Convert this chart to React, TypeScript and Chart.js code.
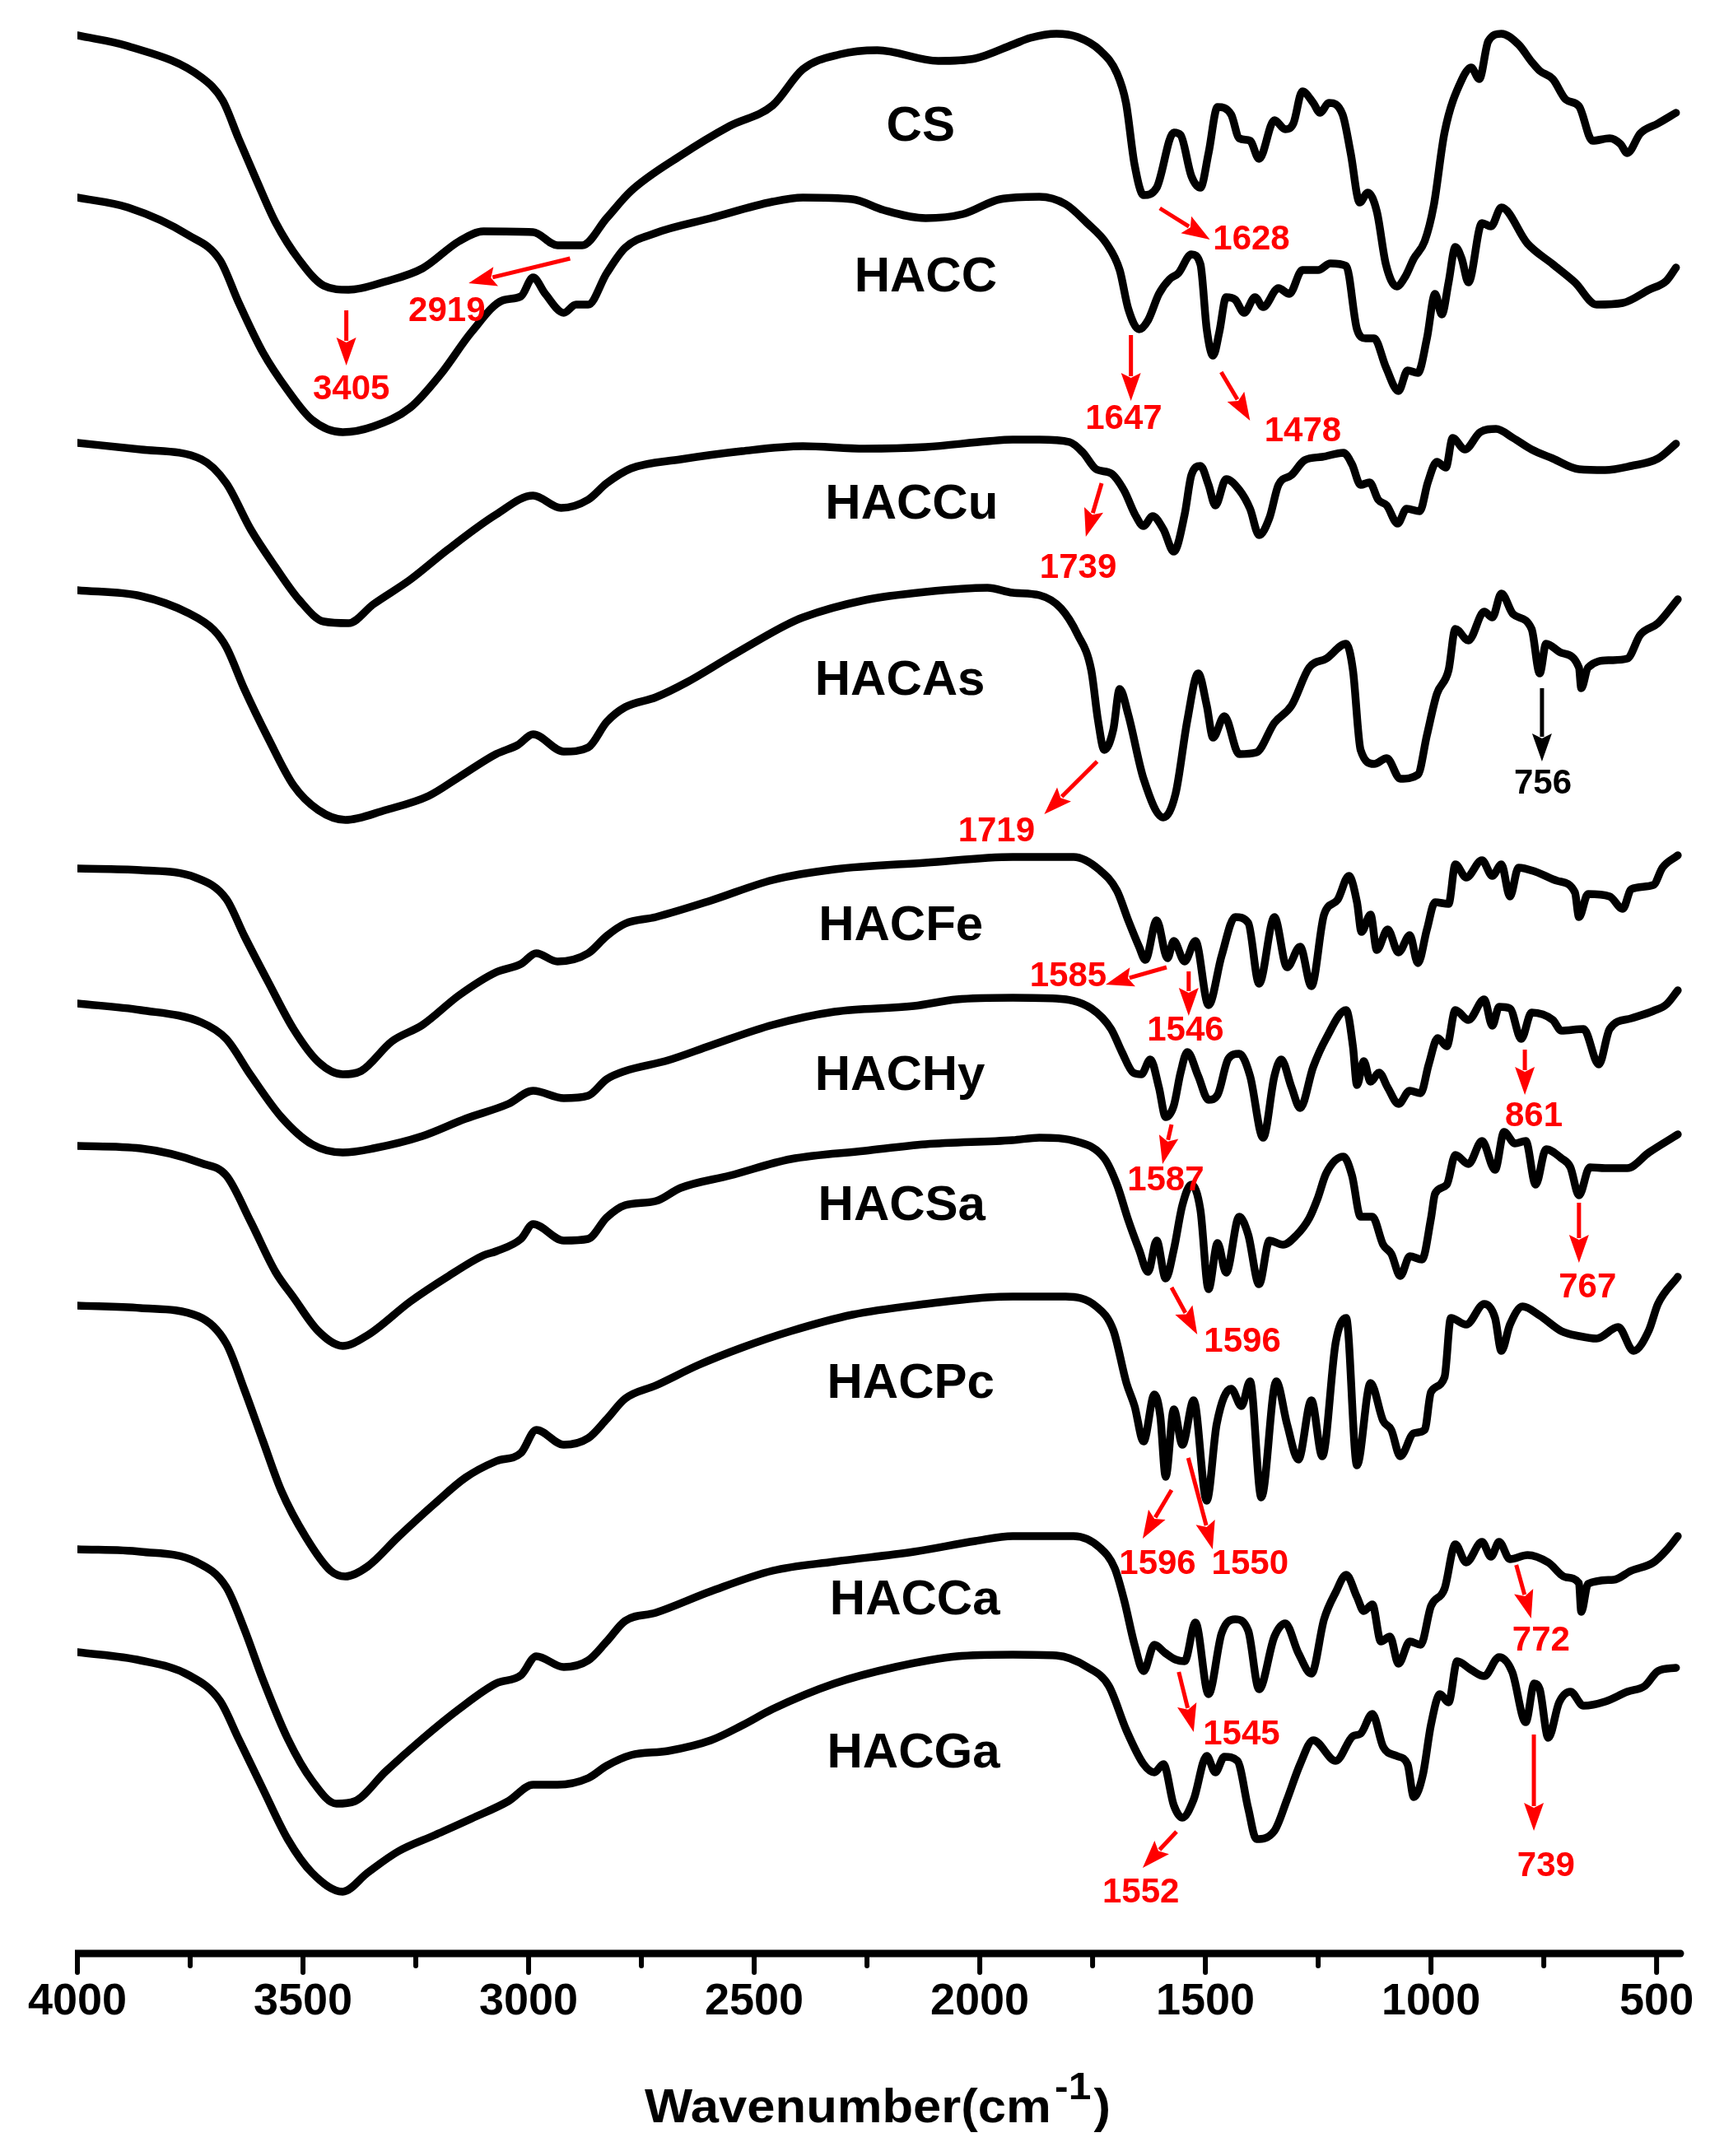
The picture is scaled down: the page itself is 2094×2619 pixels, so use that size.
import React, { useEffect, useRef } from 'react';
import { Chart, registerables } from 'chart.js';

Chart.register(...registerables);

type P = [number, number];

// Wavenumber (cm-1) and stacked, offset transmittance (arbitrary units, larger = lower on page)
const CS: P[] = [[4000,43],[3888,56],[3725,94],[3678,122],[3643,168],[3603,219],[3561,270],[3508,316],[3454,347],[3399,352],[3317,342],[3235,326],[3154,293],[3100,281],[2990,282],[2936,298],[2881,298],[2827,265],[2773,232],[2663,189],[2554,153],[2459,128],[2392,84],[2310,66],[2227,61],[2092,74],[2010,71],[1926,54],[1888,46],[1830,41],[1783,45],[1734,61],[1696,89],[1676,125],[1657,200],[1637,237],[1608,228],[1570,161],[1555,164],[1531,214],[1511,228],[1493,186],[1473,130],[1443,139],[1425,168],[1401,171],[1381,193],[1347,146],[1323,157],[1305,150],[1285,111],[1261,125],[1246,137],[1226,125],[1196,139],[1178,186],[1158,246],[1140,234],[1120,257],[1100,321],[1076,348],[1057,336],[1038,314],[1014,293],[994,250],[970,161],[931,96],[911,82],[893,96],[873,50],[844,41],[806,54],[777,75],[759,86],[730,96],[701,121],[672,129],[642,171],[604,168],[580,175],[565,186],[536,162],[497,150],[457,137]];

const HACC: P[] = [[4000,240],[3888,252],[3753,286],[3684,316],[3643,367],[3589,428],[3534,474],[3480,510],[3412,525],[3344,518],[3262,495],[3194,454],[3126,403],[3058,365],[3017,360],[2990,337],[2963,357],[2922,380],[2895,370],[2868,370],[2827,332],[2786,301],[2718,283],[2596,265],[2459,245],[2392,240],[2282,242],[2214,255],[2120,265],[2037,260],[1955,242],[1868,239],[1810,248],[1762,271],[1719,296],[1690,328],[1671,375],[1647,400],[1627,389],[1603,357],[1579,339],[1560,332],[1531,309],[1511,321],[1497,400],[1483,432],[1469,403],[1454,361],[1434,364],[1414,380],[1390,361],[1372,373],[1338,350],[1314,357],[1285,328],[1250,328],[1223,320],[1188,323],[1164,400],[1145,411],[1126,411],[1100,446],[1072,475],[1052,450],[1029,453],[1009,411],[991,357],[976,382],[961,343],[946,300],[932,314],[917,343],[887,271],[867,275],[844,252],[786,296],[730,321],[681,343],[633,370],[575,368],[517,352],[478,341],[457,325]];

const HACCu: P[] = [[4000,538],[3860,546],[3725,558],[3670,587],[3616,643],[3561,689],[3508,729],[3454,755],[3399,757],[3344,734],[3262,704],[3180,668],[3072,625],[2990,602],[2928,617],[2868,607],[2827,587],[2773,569],[2663,558],[2527,548],[2392,542],[2255,545],[2120,543],[1983,536],[1927,534],[1868,534],[1801,537],[1771,550],[1742,570],[1709,575],[1680,596],[1656,625],[1637,639],[1617,627],[1593,643],[1570,670],[1546,625],[1531,577],[1511,566],[1493,589],[1478,614],[1454,582],[1425,595],[1401,618],[1381,650],[1358,629],[1338,589],[1309,577],[1280,559],[1241,555],[1194,550],[1175,564],[1156,589],[1136,586],[1117,607],[1098,614],[1074,636],[1054,618],[1025,621],[1007,586],[987,561],[967,568],[952,532],[925,546],[891,525],[856,521],[818,532],[777,546],[730,557],[672,570],[614,571],[556,566],[497,557],[457,539]];

const HACAs: P[] = [[4000,717],[3860,724],[3753,745],[3698,765],[3670,786],[3630,837],[3576,898],[3521,954],[3466,984],[3406,996],[3317,984],[3222,967],[3154,944],[3072,916],[3024,905],[2990,892],[2922,913],[2868,908],[2827,877],[2786,859],[2718,847],[2650,829],[2554,798],[2432,760],[2392,750],[2255,729],[2120,719],[1983,714],[1927,720],[1868,723],[1820,739],[1783,771],[1753,814],[1738,875],[1724,911],[1704,886],[1690,837],[1671,868],[1637,946],[1593,993],[1566,964],[1540,875],[1516,818],[1497,857],[1483,896],[1458,870],[1425,916],[1387,914],[1347,878],[1309,857],[1270,811],[1232,800],[1188,782],[1173,814],[1156,911],[1126,928],[1098,921],[1068,946],[1029,941],[1009,893],[987,843],[961,814],[946,764],[917,778],[882,743],[864,750],[844,721],[818,746],[777,764],[759,818],[745,782],[711,793],[672,811],[667,836],[652,811],[604,802],[565,800],[536,771],[497,757],[453,728]];

const HACFe: P[] = [[4000,1055],[3860,1057],[3738,1066],[3670,1092],[3630,1137],[3576,1194],[3521,1250],[3466,1290],[3412,1305],[3371,1301],[3303,1265],[3235,1245],[3154,1209],[3072,1181],[3017,1171],[2983,1158],[2936,1168],[2868,1158],[2827,1137],[2786,1122],[2718,1114],[2596,1094],[2459,1069],[2322,1056],[2120,1048],[1927,1041],[1792,1041],[1734,1057],[1696,1082],[1671,1118],[1647,1150],[1633,1166],[1608,1118],[1584,1164],[1570,1143],[1546,1168],[1522,1143],[1493,1221],[1464,1161],[1434,1114],[1405,1121],[1381,1195],[1347,1114],[1319,1175],[1290,1150],[1265,1198],[1237,1111],[1207,1093],[1182,1064],[1164,1096],[1154,1132],[1134,1111],[1120,1154],[1096,1129],[1072,1157],[1047,1136],[1029,1170],[1009,1129],[991,1096],[961,1098],[946,1050],[922,1066],[887,1045],[864,1064],[844,1050],[825,1089],[806,1054],[768,1059],[720,1070],[681,1084],[672,1114],[652,1086],[604,1089],[575,1104],[556,1080],[507,1075],[487,1054],[453,1039]];

const HACHy: P[] = [[4000,1219],[3860,1227],[3725,1242],[3670,1262],[3616,1306],[3548,1357],[3480,1390],[3412,1400],[3344,1395],[3235,1380],[3140,1359],[3045,1341],[2990,1325],[2922,1334],[2868,1331],[2827,1311],[2786,1301],[2691,1288],[2596,1270],[2459,1245],[2322,1229],[2146,1222],[2051,1214],[1927,1212],[1830,1213],[1753,1225],[1709,1250],[1685,1278],[1660,1303],[1642,1305],[1622,1287],[1603,1321],[1588,1357],[1570,1343],[1555,1303],[1540,1278],[1516,1307],[1493,1336],[1473,1330],[1449,1286],[1425,1280],[1401,1307],[1372,1382],[1347,1307],[1332,1287],[1309,1321],[1290,1346],[1261,1296],[1232,1261],[1188,1227],[1173,1271],[1164,1318],[1149,1289],[1134,1314],[1115,1303],[1096,1321],[1072,1341],[1047,1325],[1023,1328],[1005,1293],[985,1261],[965,1271],[946,1227],[917,1239],[882,1214],[864,1246],[849,1223],[825,1225],[800,1262],[777,1230],[730,1239],[711,1252],[662,1250],[628,1293],[604,1250],[556,1237],[507,1228],[478,1220],[453,1203]];

const HACSa: P[] = [[4000,1392],[3860,1395],[3725,1413],[3670,1428],[3616,1484],[3561,1545],[3521,1576],[3466,1617],[3412,1635],[3357,1622],[3262,1581],[3180,1551],[3100,1525],[3072,1520],[3017,1505],[2990,1487],[2922,1507],[2868,1505],[2827,1479],[2786,1464],[2718,1459],[2663,1443],[2554,1428],[2419,1408],[2255,1398],[2120,1390],[1927,1385],[1868,1382],[1783,1387],[1724,1407],[1696,1439],[1671,1482],[1647,1518],[1627,1545],[1608,1507],[1588,1553],[1570,1518],[1551,1464],[1531,1439],[1511,1470],[1493,1566],[1473,1510],[1454,1546],[1425,1478],[1405,1500],[1381,1560],[1358,1507],[1328,1512],[1299,1501],[1270,1480],[1252,1457],[1232,1425],[1194,1405],[1175,1428],[1156,1478],[1130,1478],[1106,1512],[1088,1523],[1068,1550],[1047,1526],[1020,1530],[1000,1480],[991,1450],[965,1439],[946,1403],[917,1414],[887,1386],[858,1421],[838,1375],[814,1389],[790,1386],[768,1439],[745,1396],[711,1407],[691,1418],[672,1452],[648,1418],[614,1419],[565,1419],[517,1400],[453,1378]];

const HACPc: P[] = [[4000,1586],[3860,1589],[3732,1599],[3670,1632],[3630,1688],[3589,1750],[3548,1811],[3494,1867],[3439,1908],[3406,1915],[3357,1903],[3289,1867],[3207,1826],[3140,1795],[3072,1775],[3017,1765],[2983,1737],[2922,1755],[2868,1747],[2827,1724],[2786,1699],[2718,1683],[2623,1658],[2527,1637],[2419,1617],[2282,1597],[2120,1584],[1983,1576],[1927,1575],[1810,1575],[1742,1587],[1704,1616],[1675,1680],[1657,1708],[1637,1751],[1613,1694],[1600,1720],[1588,1794],[1570,1712],[1551,1755],[1526,1701],[1497,1823],[1475,1730],[1443,1687],[1420,1708],[1401,1678],[1376,1819],[1343,1678],[1319,1730],[1294,1773],[1265,1701],[1241,1769],[1211,1630],[1188,1601],[1164,1780],[1134,1680],[1106,1726],[1088,1737],[1068,1769],[1038,1741],[1014,1737],[1000,1691],[970,1673],[956,1601],[922,1609],[882,1584],[858,1601],[844,1641],[825,1609],[797,1587],[759,1598],[711,1617],[672,1623],[633,1626],[585,1612],[551,1641],[517,1616],[497,1584],[453,1551]];

const HACCa: P[] = [[4000,1882],[3860,1885],[3738,1897],[3670,1928],[3630,1979],[3589,2040],[3534,2112],[3480,2163],[3426,2191],[3385,2188],[3317,2152],[3235,2112],[3154,2076],[3072,2045],[3017,2035],[2983,2012],[2922,2025],[2868,2017],[2827,1994],[2786,1969],[2718,1959],[2596,1933],[2459,1908],[2322,1897],[2146,1885],[2010,1872],[1927,1866],[1792,1866],[1734,1880],[1701,1905],[1680,1944],[1657,1998],[1637,2030],[1613,1998],[1589,2008],[1566,2016],[1546,2018],[1522,1971],[1493,2058],[1464,1984],[1434,1967],[1405,1981],[1381,2052],[1347,1988],[1323,1972],[1294,2008],[1265,2033],[1237,1967],[1211,1934],[1188,1913],[1164,1940],[1149,1957],[1130,1949],[1111,1994],[1091,1988],[1072,2021],[1047,1994],[1023,1998],[1000,1951],[970,1930],[946,1876],[922,1898],[887,1873],[867,1891],[849,1873],[825,1894],[786,1889],[740,1898],[701,1916],[672,1923],[667,1958],[652,1924],[595,1919],[556,1908],[507,1898],[478,1883],[453,1866]];

const HACGa: P[] = [[4000,2007],[3860,2017],[3753,2035],[3684,2066],[3643,2112],[3589,2173],[3534,2234],[3480,2275],[3412,2298],[3357,2275],[3289,2249],[3207,2229],[3126,2209],[3045,2188],[2990,2168],[2936,2168],[2868,2160],[2827,2145],[2773,2132],[2691,2127],[2596,2114],[2527,2096],[2459,2076],[2322,2045],[2187,2025],[2051,2012],[1927,2010],[1830,2011],[1762,2025],[1714,2048],[1675,2102],[1637,2143],[1613,2153],[1593,2143],[1570,2193],[1551,2208],[1526,2186],[1497,2133],[1478,2153],[1458,2134],[1429,2139],[1405,2197],[1387,2234],[1347,2224],[1319,2186],[1290,2143],[1261,2114],[1211,2139],[1173,2109],[1156,2106],[1130,2082],[1106,2122],[1076,2133],[1052,2143],[1038,2183],[1018,2156],[1000,2095],[980,2058],[961,2068],[942,2018],[912,2028],[882,2036],[849,2013],[820,2031],[790,2092],[771,2045],[759,2052],[740,2111],[716,2068],[691,2055],[662,2072],[614,2067],[565,2055],[526,2048],[497,2030],[457,2026]];

const SERIES_NAMES = ['CS', 'HACC', 'HACCu', 'HACAs', 'HACFe', 'HACHy', 'HACSa', 'HACPc', 'HACCa', 'HACGa'];
const SERIES = [CS, HACC, HACCu, HACAs, HACFe, HACHy, HACSa, HACPc, HACCa, HACGa];
// where each sample name sits (wavenumber, baseline level)
const NAME_AT: P[] = [[2131,171],[2120,354],[2151,630],[2177,844],[2175,1142],[2177,1324],[2173,1482],[2153,1698],[2144,1961],[2147,2147]];

const MAJOR_TICKS = [4000, 3500, 3000, 2500, 2000, 1500, 1000, 500];
const MINOR_TICKS = [3750, 3250, 2750, 2250, 1750, 1250, 750];

const PEAK_TEXT = ['3405','2919','1628','1647','1478','1739','1719','756','1585','1546','861','1587','767','1596','1596','1550','772','1545','1552','739'];
const PEAK_TEXT_AT: P[] = [[3393,485],[3181,390],[1398,303],[1681,521],[1284,536],[1782,702],[1963,1022],[752,964],[1804,1198],[1544,1264],[772,1368],[1588,1446],[653,1576],[1418,1642],[1606,1912],[1401,1912],[756,2005],[1420,2119],[1643,2311],[745,2279]];
const ARROW_FROM: P[] = [[3404,377],[2908,314],[1601,253],[1665,407],[1465,452],[1730,587],[1740,925],[754,836],[1586,1175],[1537,1180],[792,1275],[1575,1366],[672,1461],[1575,1564],[1575,1810],[1538,1771],[811,1901],[1559,2031],[1564,2225],[772,2107]];
const ARROW_TO: P[] = [[3404,444],[3133,344],[1490,291],[1665,487],[1401,511],[1765,652],[1857,989],[754,925],[1721,1196],[1537,1234],[792,1330],[1595,1414],[672,1534],[1518,1621],[1639,1869],[1484,1882],[778,1966],[1526,2104],[1639,2269],[772,2224]];
const PEAK_COLOR = ['red','red','red','red','red','red','red','black','red','red','red','red','red','red','red','red','red','red','red','red'];

const FONT = '"Liberation Sans", Arial, Helvetica, sans-serif';

const decorPlugin = {
  id: 'decor',
  afterDraw(chart: any) {
    const ctx: CanvasRenderingContext2D = chart.ctx;
    const xs = chart.scales.x;
    const ys = chart.scales.y;
    const area = chart.chartArea;
    const axisY = area.bottom + 2;
    ctx.save();
    // axis line
    ctx.strokeStyle = '#000';
    ctx.lineWidth = 9;
    ctx.lineCap = 'butt';
    ctx.beginPath();
    ctx.moveTo(xs.getPixelForValue(4000) - 3, axisY);
    ctx.lineTo(area.right - 4, axisY);
    ctx.stroke();
    ctx.beginPath();
    ctx.arc(area.right - 4, axisY, 4.5, -Math.PI / 2, Math.PI / 2);
    ctx.fillStyle = '#000';
    ctx.fill();
    // ticks
    ctx.lineWidth = 6;
    ctx.lineCap = 'round';
    MAJOR_TICKS.forEach((v) => {
      const px = xs.getPixelForValue(v);
      ctx.beginPath();
      ctx.moveTo(px, axisY);
      ctx.lineTo(px, axisY + 23);
      ctx.stroke();
    });
    MINOR_TICKS.forEach((v) => {
      const px = xs.getPixelForValue(v);
      ctx.beginPath();
      ctx.moveTo(px, axisY);
      ctx.lineTo(px, axisY + 15);
      ctx.stroke();
    });
    // axis title with superscript, fitted to its width in the figure
    ctx.fillStyle = '#000';
    ctx.textBaseline = 'alphabetic';
    ctx.textAlign = 'left';
    const mainFont = `bold 57px ${FONT}`;
    const supFont = `bold 46px ${FONT}`;
    const main = 'Wavenumber(cm';
    ctx.font = mainFont;
    const wMain = ctx.measureText(main).width;
    const wClose = ctx.measureText(')').width;
    ctx.font = supFont;
    const wSup = ctx.measureText('-1').width;
    const natural = wMain + 4 + wSup + 3 + wClose;
    const target = 566;
    const sx = target / natural;
    ctx.save();
    ctx.translate(783, 0);
    ctx.scale(sx, 1);
    let tx = 0;
    ctx.font = mainFont;
    ctx.fillText(main, tx, 2578);
    tx += wMain + 4;
    ctx.font = supFont;
    ctx.fillText('-1', tx, 2550);
    tx += wSup + 3;
    ctx.font = mainFont;
    ctx.fillText(')', tx, 2578);
    ctx.restore();
    // sample names
    ctx.font = `bold 60px ${FONT}`;
    ctx.textAlign = 'center';
    ctx.fillStyle = '#000';
    SERIES_NAMES.forEach((n, i) => {
      ctx.fillText(n, xs.getPixelForValue(NAME_AT[i][0]), ys.getPixelForValue(NAME_AT[i][1]));
    });
    // peak annotations
    ctx.font = `bold 42px ${FONT}`;
    PEAK_TEXT.forEach((t, i) => {
      const col = PEAK_COLOR[i] === 'red' ? '#ff0000' : '#000000';
      ctx.fillStyle = col;
      ctx.strokeStyle = col;
      ctx.fillText(t, xs.getPixelForValue(PEAK_TEXT_AT[i][0]), ys.getPixelForValue(PEAK_TEXT_AT[i][1]));
      const x1 = xs.getPixelForValue(ARROW_FROM[i][0]);
      const y1 = ys.getPixelForValue(ARROW_FROM[i][1]);
      const x2 = xs.getPixelForValue(ARROW_TO[i][0]);
      const y2 = ys.getPixelForValue(ARROW_TO[i][1]);
      const ang = Math.atan2(y2 - y1, x2 - x1);
      const hl = 34, hw = 12;
      const bx = x2 - hl * Math.cos(ang);
      const by = y2 - hl * Math.sin(ang);
      ctx.lineWidth = 5;
      ctx.lineCap = 'butt';
      ctx.beginPath();
      ctx.moveTo(x1, y1);
      ctx.lineTo(bx + 4 * Math.cos(ang), by + 4 * Math.sin(ang));
      ctx.stroke();
      ctx.beginPath();
      ctx.moveTo(x2, y2);
      ctx.lineTo(bx - hw * Math.sin(ang), by + hw * Math.cos(ang));
      ctx.lineTo(bx + 6 * Math.cos(ang), by + 6 * Math.sin(ang));
      ctx.lineTo(bx + hw * Math.sin(ang), by - hw * Math.cos(ang));
      ctx.closePath();
      ctx.fill();
    });
    ctx.restore();
  },
};

export default function App() {
  const ref = useRef<HTMLCanvasElement | null>(null);
  useEffect(() => {
    if (!ref.current) return;
    const datasets = SERIES.map((s, i) => ({
      label: SERIES_NAMES[i],
      data: s.map(([x, y]) => ({ x, y })),
      borderColor: '#000000',
      borderWidth: 9.5,
      pointRadius: 0,
      fill: false,
      cubicInterpolationMode: 'monotone' as const,
      borderJoinStyle: 'round' as const,
      borderCapStyle: 'round' as const,
    }));
    const chart = new Chart(ref.current, {
      type: 'line',
      data: { datasets },
      options: {
        responsive: false,
        animation: false,
        devicePixelRatio: 1,
        parsing: false as any,
        layout: { padding: { left: 94, right: 49, top: 0, bottom: 0 } },
        plugins: { legend: { display: false }, tooltip: { enabled: false }, title: { display: false } },
        scales: {
          x: {
            type: 'linear',
            min: 440,
            max: 4000,
            reverse: true,
            afterBuildTicks: (s: any) => { s.ticks = MAJOR_TICKS.map((v) => ({ value: v })); },
            afterFit: (s: any) => { s.height = 248; },
            grid: { display: false, drawTicks: false },
            border: { display: false },
            ticks: {
              padding: 29,
              color: '#000',
              autoSkip: false,
              maxRotation: 0,
              font: { family: FONT, size: 54, weight: 'bold' },
              callback: (v: any) => String(v),
            },
          },
          y: { type: 'linear', display: false, min: 0, max: 2371, reverse: true },
        },
      },
      plugins: [decorPlugin],
    } as any);
    return () => chart.destroy();
  }, []);
  return (
    <div style={{ position: 'absolute', left: 0, top: 0, width: 2094, height: 2619, background: '#fff' }}>
      <canvas ref={ref} width={2094} height={2619} style={{ width: 2094, height: 2619, display: 'block' }} />
    </div>
  );
}
